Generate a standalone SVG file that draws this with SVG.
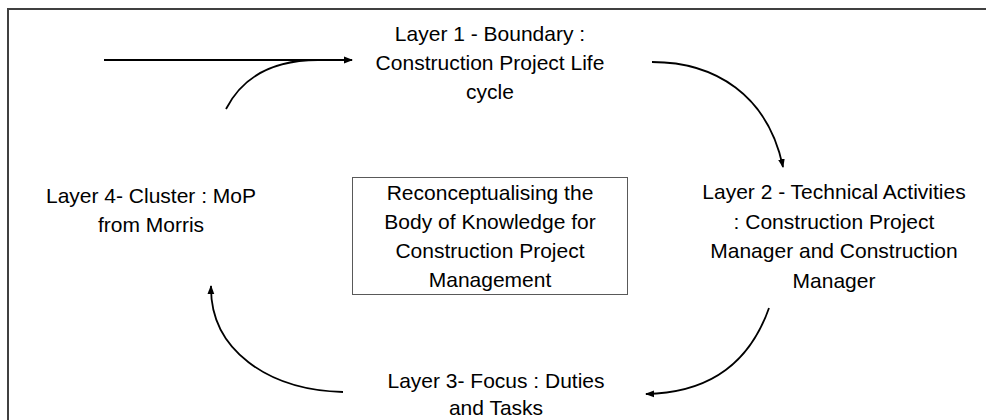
<svg xmlns="http://www.w3.org/2000/svg" width="986" height="420" viewBox="0 0 986 420">
<defs>
<marker id="ah" markerWidth="9" markerHeight="8" refX="8" refY="4" orient="auto" markerUnits="userSpaceOnUse">
<path d="M0,0.6 L9,4 L0,7.4 Z" fill="#000"/>
</marker>
<style>
.t{font-family:"Liberation Sans",Arial,sans-serif;font-size:21px;fill:#000;text-anchor:middle}
.c{fill:none;stroke:#000;stroke-width:1.8}
</style>
</defs>
<rect x="0" y="0" width="986" height="420" fill="#fff"/>
<rect x="8" y="9" width="1000" height="430" fill="none" stroke="#404040" stroke-width="2"/>
<g id="layer1">
<text class="t" x="490" y="41">Layer 1 - Boundary :</text>
<text class="t" x="490" y="70">Construction Project Life</text>
<text class="t" x="490" y="99">cycle</text>
</g>
<g id="layer2">
<text class="t" x="834" y="199">Layer 2 - Technical Activities</text>
<text class="t" x="834" y="229">: Construction Project</text>
<text class="t" x="834" y="258">Manager and Construction</text>
<text class="t" x="834" y="288">Manager</text>
</g>
<g id="layer3">
<text class="t" x="496" y="388">Layer 3- Focus : Duties</text>
<text class="t" x="496" y="415">and Tasks</text>
</g>
<g id="layer4">
<text class="t" x="151" y="203">Layer 4- Cluster : MoP</text>
<text class="t" x="151" y="232">from Morris</text>
</g>
<g id="center">
<rect x="352.5" y="177.5" width="275" height="117" fill="#fff" stroke="#595959" stroke-width="1"/>
<text class="t" x="490" y="200">Reconceptualising the</text>
<text class="t" x="490" y="229">Body of Knowledge for</text>
<text class="t" x="490" y="258">Construction Project</text>
<text class="t" x="490" y="287">Management</text>
</g>
<g id="connectors">
<path class="c" stroke-width="2.4" d="M104,60 L352,60" marker-end="url(#ah)"/>
<path class="c" d="M226,109 C244,74 276,60 318,60"/>
<path class="c" d="M652,62 C715,62 768,95 783,167" marker-end="url(#ah)"/>
<path class="c" d="M769,308 C750,362 710,393 646,394" marker-end="url(#ah)"/>
<path class="c" d="M343,392 C268,390 210,350 211,286" marker-end="url(#ah)"/>
</g>
</svg>
